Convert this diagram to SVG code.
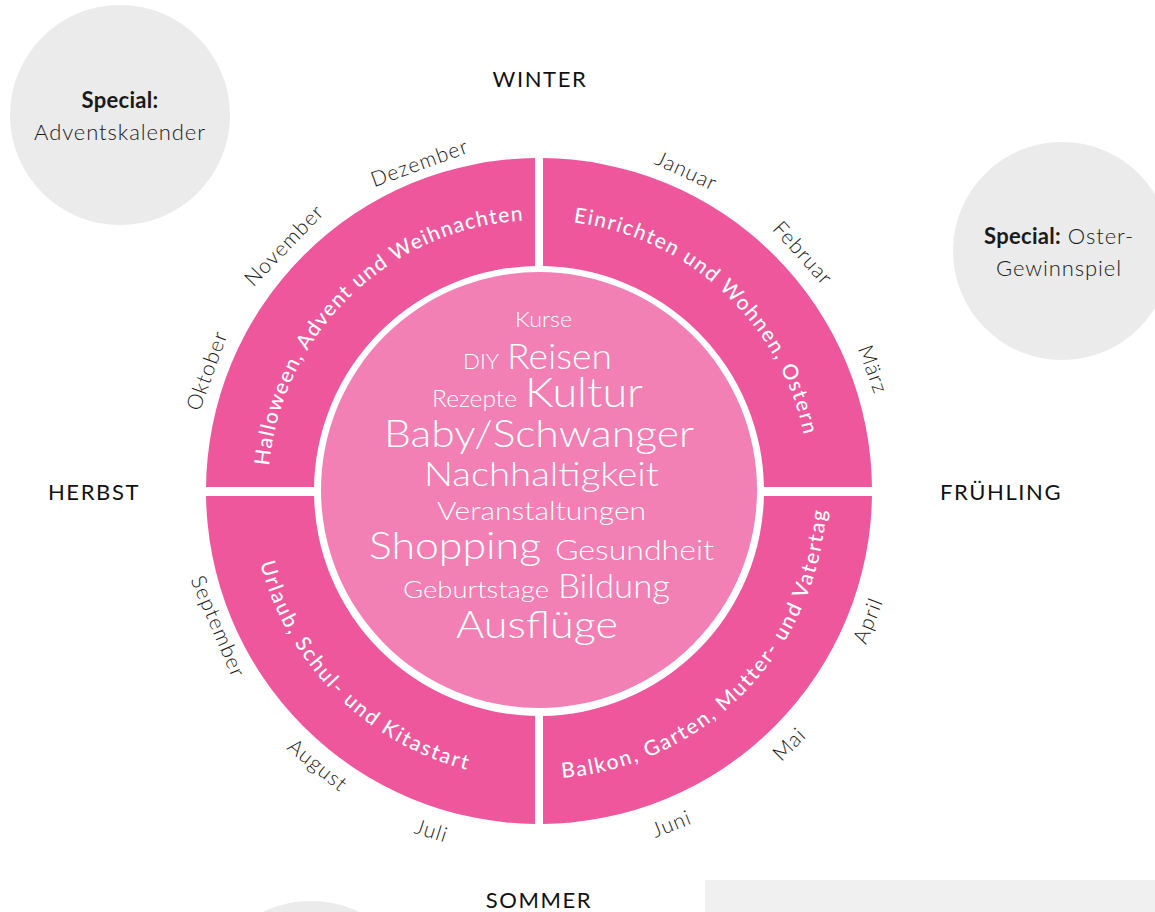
<svg xmlns="http://www.w3.org/2000/svg" xmlns:xlink="http://www.w3.org/1999/xlink" width="1155" height="912" viewBox="0 0 1155 912">
<style>
.bg{fill:#ffffff}
.gray{fill:#ebebeb}
.ring{fill:#ee579c}
.core{fill:#f280b5}
.season{font-family:"Lato","Liberation Sans",sans-serif;font-size:22px;font-weight:400;letter-spacing:1.6px;fill:#111;text-anchor:middle}
.month{font-family:"Lato","Liberation Sans",sans-serif;font-size:21px;font-weight:300;letter-spacing:1.1px;fill:#1a1a1a;text-anchor:middle}
.rl{font-family:"Lato","Liberation Sans",sans-serif;font-size:21px;font-weight:500;letter-spacing:0.6px;fill:#fff;text-anchor:middle}
.w{font-family:"Lato","Liberation Sans",sans-serif;font-weight:300;fill:#fff}
.sp{font-family:"Lato","Liberation Sans",sans-serif;font-size:22px;fill:#1a1a1a;text-anchor:middle}
.b{font-weight:700;letter-spacing:0.3px}
.l{font-weight:300;letter-spacing:0.9px}
</style>
<defs>
<path id="annulus" fill-rule="evenodd" d="M206 491a333 333 0 1 0 666 0a333 333 0 1 0-666 0ZM314 491a225 225 0 1 0 450 0a225 225 0 1 0-450 0Z"/>
<clipPath id="cTL"><rect x="0" y="0" width="535" height="487"/></clipPath>
<clipPath id="cTR"><rect x="543" y="0" width="612" height="487"/></clipPath>
<clipPath id="cBL"><rect x="0" y="496" width="535" height="416"/></clipPath>
<clipPath id="cBR"><rect x="543" y="496" width="612" height="416"/></clipPath>
<path id="pTL" d="M314.3 642.5A271 271 0 0 1 698.3 271.8"/>
<path id="pTR" d="M374.8 275.4A271 271 0 0 1 767 637.4"/>
<path id="pBL" d="M303.1 325.8A288 288 0 0 0 704.2 726.9"/>
<path id="pBR" d="M375.5 728.1A288 288 0 0 0 773.7 324.2"/>
</defs>
<rect class="bg" x="0" y="0" width="1155" height="912"/>

<g id="special-advent">
<circle class="gray" cx="120" cy="115" r="110"/>
<text class="sp" x="120" y="108"><tspan class="b">Special:</tspan></text>
<text class="sp l" x="120" y="140">Adventskalender</text>
</g>
<g id="special-ostern">
<circle class="gray" cx="1062" cy="251" r="109"/>
<text class="sp" x="1059" y="244"><tspan class="b">Special:</tspan><tspan class="l"> Oster-</tspan></text>
<text class="sp l" x="1059" y="276">Gewinnspiel</text>
</g>
<g id="special-bottom">
<circle class="gray" cx="311" cy="1011" r="110"/>
</g>
<g id="bottom-panel">
<rect x="705" y="880" width="450" height="32" fill="#f0f0f0"/>
</g>

<g id="season-winter"><text class="season" x="540" y="87">WINTER</text></g>
<g id="season-herbst"><text class="season" x="94" y="500">HERBST</text></g>
<g id="season-fruehling"><text class="season" x="1001" y="500">FRÜHLING</text></g>
<g id="season-sommer"><text class="season" x="539" y="908">SOMMER</text></g>

<g id="quadrant-herbst-winter">
<use href="#annulus" class="ring" clip-path="url(#cTL)"/>
<text class="rl"><textPath href="#pTL" startOffset="50%" textLength="385">Halloween, Advent und Weihnachten</textPath></text>
<text class="month" transform="translate(208 371) rotate(-70)" y="6">Oktober</text>
<text class="month" transform="translate(285 246) rotate(-46)" y="6">November</text>
<text class="month" transform="translate(420 164) rotate(-20)" y="6">Dezember</text>
</g>
<g id="quadrant-winter-fruehling">
<use href="#annulus" class="ring" clip-path="url(#cTR)"/>
<text class="rl"><textPath href="#pTR" startOffset="50%" textLength="335">Einrichten und Wohnen, Ostern</textPath></text>
<text class="month" transform="translate(686 172) rotate(24.7)" y="6">Januar</text>
<text class="month" transform="translate(802 254) rotate(48)" y="6">Februar</text>
<text class="month" transform="translate(872 370) rotate(70)" y="6">März</text>
</g>
<g id="quadrant-sommer-herbst">
<use href="#annulus" class="ring" clip-path="url(#cBL)"/>
<text class="rl"><textPath href="#pBL" startOffset="50%" textLength="307">Urlaub, Schul- und Kitastart</textPath></text>
<text class="month" transform="translate(217 627) rotate(67)" y="6">September</text>
<text class="month" transform="translate(317 766) rotate(39)" y="6">August</text>
<text class="month" transform="translate(431 832) rotate(17.6)" y="6">Juli</text>
</g>
<g id="quadrant-fruehling-sommer">
<use href="#annulus" class="ring" clip-path="url(#cBR)"/>
<text class="rl"><textPath href="#pBR" startOffset="50%" textLength="410">Balkon, Garten, Mutter- und Vatertag</textPath></text>
<text class="month" transform="translate(869 621) rotate(-68.5)" y="6">April</text>
<text class="month" transform="translate(790 745) rotate(-44.7)" y="6">Mai</text>
<text class="month" transform="translate(672 825) rotate(-21.7)" y="6">Juni</text>
</g>

<g id="core-topics">
<circle class="core" cx="539" cy="490" r="218"/>
<text class="w" x="515" y="327" font-size="22" textLength="57" lengthAdjust="spacingAndGlyphs">Kurse</text>
<text class="w" x="463" y="369" font-size="22" textLength="36" lengthAdjust="spacingAndGlyphs">DIY</text>
<text class="w" x="507" y="369" font-size="35" textLength="105" lengthAdjust="spacingAndGlyphs">Reisen</text>
<text class="w" x="432" y="407" font-size="23" textLength="85" lengthAdjust="spacingAndGlyphs">Rezepte</text>
<text class="w" x="525" y="407" font-size="42" textLength="118" lengthAdjust="spacingAndGlyphs">Kultur</text>
<text class="w" x="384" y="447" font-size="38" textLength="310" lengthAdjust="spacingAndGlyphs">Baby/Schwanger</text>
<text class="w" x="424" y="486" font-size="34" textLength="235" lengthAdjust="spacingAndGlyphs">Nachhaltigkeit</text>
<text class="w" x="437" y="520" font-size="26" textLength="209" lengthAdjust="spacingAndGlyphs">Veranstaltungen</text>
<text class="w" x="369" y="559" font-size="38" textLength="172" lengthAdjust="spacingAndGlyphs">Shopping</text>
<text class="w" x="555" y="560" font-size="28" textLength="159" lengthAdjust="spacingAndGlyphs">Gesundheit</text>
<text class="w" x="403" y="598" font-size="23" textLength="146" lengthAdjust="spacingAndGlyphs">Geburtstage</text>
<text class="w" x="558" y="598" font-size="33" textLength="112" lengthAdjust="spacingAndGlyphs">Bildung</text>
<text class="w" x="456" y="638" font-size="38" textLength="162" lengthAdjust="spacingAndGlyphs">Ausflüge</text>
</g>
<g id="connectors"/>
</svg>
